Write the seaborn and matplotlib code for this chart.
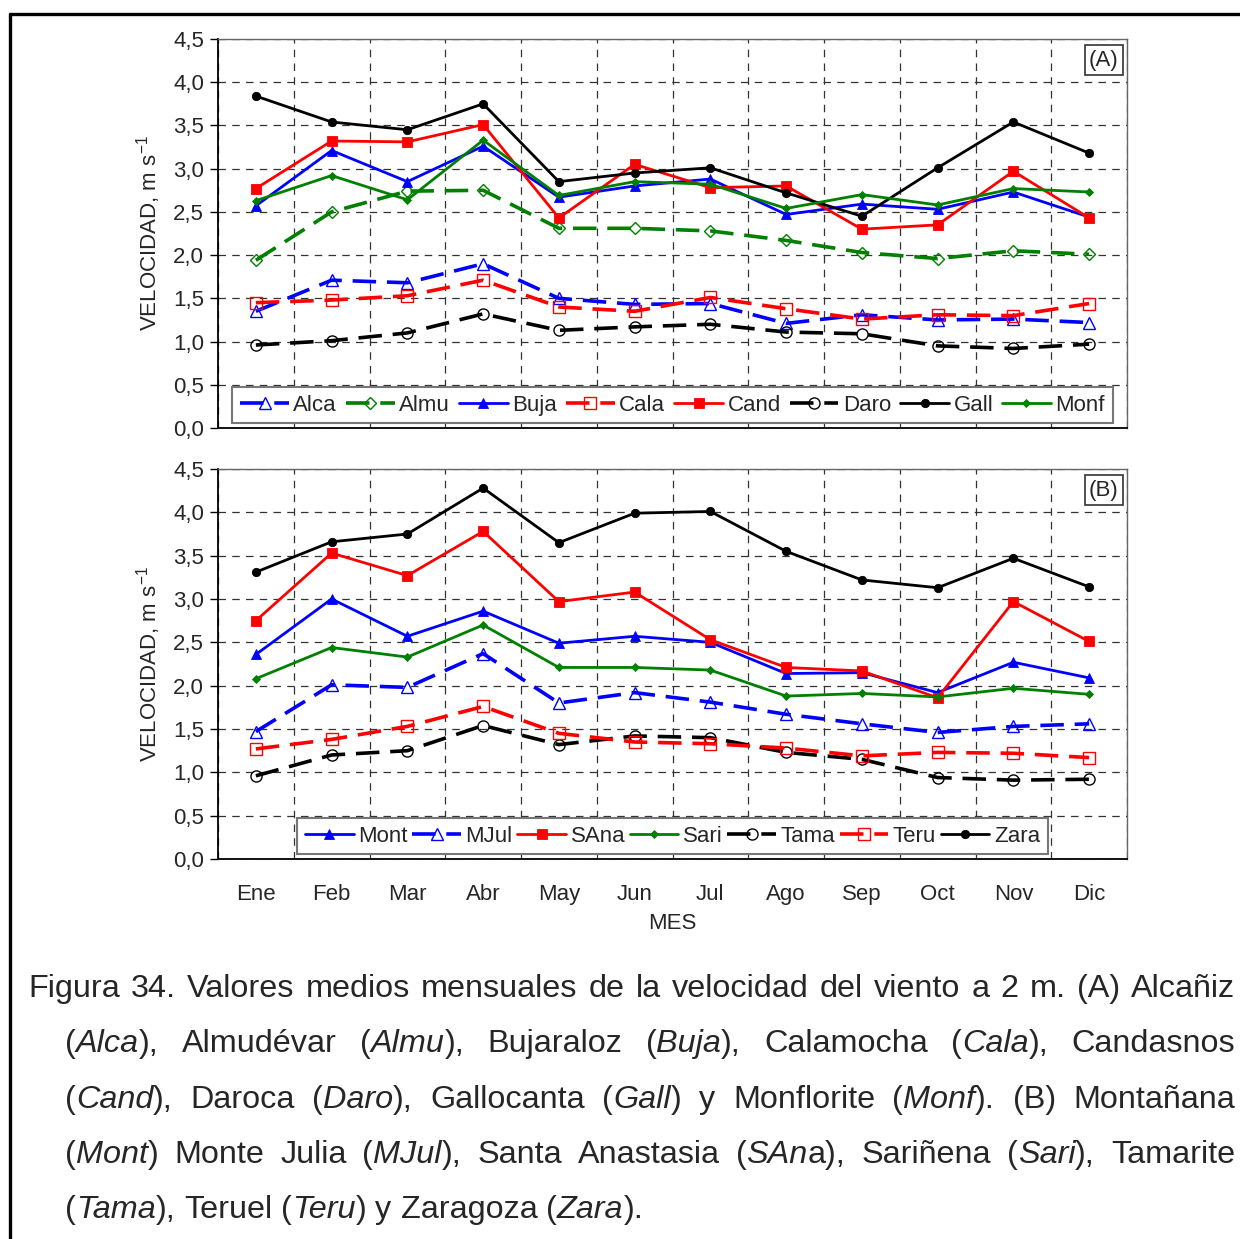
import numpy as np
import pandas as pd
import seaborn as sns
import matplotlib
matplotlib.use("Agg")
import matplotlib.pyplot as plt
import matplotlib.lines as mlines

meses = ["Ene", "Feb", "Mar", "Abr", "May", "Jun", "Jul", "Ago", "Sep", "Oct", "Nov", "Dic"]
yticks = [0.0, 0.5, 1.0, 1.5, 2.0, 2.5, 3.0, 3.5, 4.0, 4.5]
ytick_labels = ["0,0", "0,5", "1,0", "1,5", "2,0", "2,5", "3,0", "3,5", "4,0", "4,5"]

# (A)
alca = [1.35, 1.71, 1.68, 1.90, 1.50, 1.43, 1.44, 1.21, 1.31, 1.25, 1.26, 1.22]
almu = [1.94, 2.50, 2.74, 2.75, 2.31, 2.31, 2.28, 2.17, 2.03, 1.96, 2.05, 2.01]
buja = [2.57, 3.21, 2.85, 3.26, 2.67, 2.80, 2.88, 2.47, 2.59, 2.53, 2.73, 2.44]
cala = [1.45, 1.48, 1.53, 1.71, 1.40, 1.35, 1.51, 1.38, 1.26, 1.31, 1.30, 1.44]
cand = [2.77, 3.32, 3.31, 3.51, 2.43, 3.05, 2.78, 2.80, 2.30, 2.35, 2.97, 2.43]
daro = [0.96, 1.01, 1.10, 1.32, 1.13, 1.17, 1.20, 1.11, 1.09, 0.95, 0.92, 0.97]
gall = [3.84, 3.54, 3.45, 3.75, 2.85, 2.95, 3.01, 2.72, 2.45, 3.01, 3.54, 3.18]
monf = [2.63, 2.92, 2.64, 3.33, 2.69, 2.85, 2.82, 2.54, 2.70, 2.58, 2.77, 2.73]

# (B)
mont = [2.36, 3.00, 2.57, 2.86, 2.49, 2.57, 2.50, 2.14, 2.15, 1.92, 2.27, 2.09]
mjul = [1.47, 2.01, 1.98, 2.37, 1.80, 1.92, 1.81, 1.67, 1.56, 1.46, 1.53, 1.56]
sana = [2.75, 3.53, 3.27, 3.78, 2.97, 3.08, 2.53, 2.21, 2.17, 1.86, 2.97, 2.51]
sari = [2.08, 2.44, 2.33, 2.70, 2.21, 2.21, 2.18, 1.88, 1.91, 1.87, 1.97, 1.90]
tama = [0.96, 1.20, 1.25, 1.54, 1.32, 1.42, 1.40, 1.23, 1.15, 0.94, 0.91, 0.92]
teru = [1.27, 1.38, 1.53, 1.76, 1.45, 1.35, 1.33, 1.28, 1.19, 1.23, 1.22, 1.17]
zara = [3.31, 3.66, 3.75, 4.28, 3.65, 3.99, 4.01, 3.55, 3.22, 3.13, 3.47, 3.14]

series_a = [("Alca", alca), ("Almu", almu), ("Buja", buja), ("Cala", cala),
            ("Cand", cand), ("Daro", daro), ("Gall", gall), ("Monf", monf)]
series_b = [("Mont", mont), ("MJul", mjul), ("SAna", sana), ("Sari", sari),
            ("Tama", tama), ("Teru", teru), ("Zara", zara)]

# color, marker, dashed, filled, markersize
styles = {
	"Alca": ("#0000ff", "^", True, False, 9),
	"Almu": ("#008000", "D", True, False, 6.5),
	"Buja": ("#0000ff", "^", False, True, 7),
	"Cala": ("#ff0000", "s", True, False, 8),
	"Cand": ("#ff0000", "s", False, True, 7),
	"Daro": ("#000000", "o", True, False, 8),
	"Gall": ("#000000", "o", False, True, 6),
	"Monf": ("#008000", "D", False, True, 4.5),
	"Mont": ("#0000ff", "^", False, True, 7),
	"MJul": ("#0000ff", "^", True, False, 9),
	"SAna": ("#ff0000", "s", False, True, 7),
	"Sari": ("#008000", "D", False, True, 4.5),
	"Tama": ("#000000", "o", True, False, 8),
	"Teru": ("#ff0000", "s", True, False, 8),
	"Zara": ("#000000", "o", False, True, 6),
}

caption_lines = [
	"Figura 34. Valores medios mensuales de la velocidad del viento a 2 m. (A) Alcañiz",
	"(*Alca*), Almudévar (*Almu*), Bujaraloz (*Buja*), Calamocha (*Cala*), Candasnos",
	"(*Cand*), Daroca (*Daro*), Gallocanta (*Gall*) y Monflorite (*Monf*). (B) Montañana",
	"(*Mont*) Monte Julia (*MJul*), Santa Anastasia (*SAn*a), Sariñena (*Sari*), Tamarite",
	"(*Tama*), Teruel (*Teru*) y Zaragoza (*Zara*).",
]

fs = 16
W, H = 1240, 1239

sns.set_style("white")
plt.rcParams["font.family"] = ["Liberation Sans", "DejaVu Sans"]
plt.rcParams["mathtext.fontset"] = "custom"
plt.rcParams["mathtext.rm"] = "Liberation Sans"
plt.rcParams["mathtext.it"] = "Liberation Sans:italic"

fig = plt.figure(figsize=(W / 100, H / 100), dpi=100)
ax_a = fig.add_axes([218 / W, 1 - 428 / H, 909 / W, 389 / H])
ax_b = fig.add_axes([218 / W, 1 - 859 / H, 909 / W, 390 / H])


def draw_panel(ax, series, tag, show_months, colsp):
	for name, values in series:
		color, marker, dashed, filled, ms = styles[name]
		df = pd.DataFrame({"mes": meses, "vel": values})
		sns.lineplot(
			data=df, x="mes", y="vel", ax=ax, sort=False, errorbar=None,
			color=color, marker=marker, markersize=ms,
			markerfacecolor=color if filled else "none",
			markeredgecolor=color, markeredgewidth=0.6 if filled else 1.0,
			linewidth=2.6 if dashed else 2.0,
			linestyle=(0, (6.5, 3)) if dashed else "-",
			label=name, zorder=5,
		)
	ax.set_xlim(-0.5, 11.5)
	ax.set_ylim(0, 4.5)
	ax.set_yticks(yticks)
	ax.set_yticklabels(ytick_labels, fontsize=fs)
	ax.set_xticks(np.arange(-0.5, 12, 1.0))
	ax.set_xticklabels([])
	ax.set_xticks(np.arange(12), minor=True)
	if show_months:
		ax.set_xticklabels(meses, minor=True, fontsize=fs)
		ax.set_xlabel("MES", fontsize=fs, labelpad=6)
	else:
		ax.set_xticklabels([], minor=True)
		ax.set_xlabel("")
	ax.tick_params(axis="x", which="major", direction="out", length=6, width=1, color="black")
	ax.tick_params(axis="x", which="minor", length=0, pad=18)
	ax.tick_params(axis="y", which="major", direction="out", length=6, width=1, pad=4, color="black", left=True)
	ax.set_ylabel("VELOCIDAD, m s$^{\\mathregular{-1}}$", fontsize=fs, labelpad=7)
	ax.grid(True, which="major", axis="both", color="#333333", linewidth=0.9, linestyle=(0, (6, 5)))
	for side in ["left", "bottom"]:
		ax.spines[side].set_color("black")
		ax.spines[side].set_linewidth(1.3)
	for side in ["top", "right"]:
		ax.spines[side].set_color("#666666")
		ax.spines[side].set_linewidth(1.0)
	leg = ax.legend(
		loc="lower center", bbox_to_anchor=(0.5, 0.012), ncol=len(series),
		fontsize=fs, frameon=True, fancybox=False, framealpha=1, edgecolor="#777777",
		handlelength=2.2, handletextpad=0.2, columnspacing=colsp, borderpad=0.35,
		borderaxespad=0.0,
	)
	leg.get_frame().set_linewidth(1.5)
	leg.set_zorder(10)
	ax.text(0.991, 0.972, tag, transform=ax.transAxes, ha="right", va="top", fontsize=fs,
		bbox=dict(boxstyle="square,pad=0.2", facecolor="white", edgecolor="#333333", linewidth=1.2),
		zorder=11)


draw_panel(ax_a, series_a, "(A)", False, 0.4)
draw_panel(ax_b, series_b, "(B)", True, 0.2)

# outer frame of the figure page
fig.add_artist(mlines.Line2D([9.5 / W, 1.0], [1 - 14 / H, 1 - 14 / H], transform=fig.transFigure, color="black", linewidth=2.4))
fig.add_artist(mlines.Line2D([9.5 / W, 9.5 / W], [1 - 14 / H, 0.0], transform=fig.transFigure, color="black", linewidth=2.4))

# justified caption
renderer = fig.canvas.get_renderer()
cap_fs = 23.3


def parse_word(word):
	parts = word.split("*")
	return [(p, i % 2 == 1) for i, p in enumerate(parts) if p]


def measure(text, italic):
	t = fig.text(0, 0, text, fontsize=cap_fs, style="italic" if italic else "normal")
	w = t.get_window_extent(renderer).width
	t.remove()
	return w


space_w = measure("a a", False) - 2 * measure("a", False)
for i, line in enumerate(caption_lines):
	words = [parse_word(w) for w in line.split(" ")]
	widths = [sum(measure(s, it) for s, it in w) for w in words]
	x0 = 28 if i == 0 else 65
	x1 = 1235
	baseline = 997 + i * 55.3
	if i < len(caption_lines) - 1:
		gap = (x1 - x0 - sum(widths)) / (len(words) - 1)
	else:
		gap = space_w
	x = x0
	for w, ww in zip(words, widths):
		xs = x
		for s, it in w:
			fig.text(xs / W, 1 - baseline / H, s, fontsize=cap_fs, va="baseline", ha="left",
				style="italic" if it else "normal")
			xs += measure(s, it)
		x += ww + gap

fig.savefig("out.png", dpi=100)
